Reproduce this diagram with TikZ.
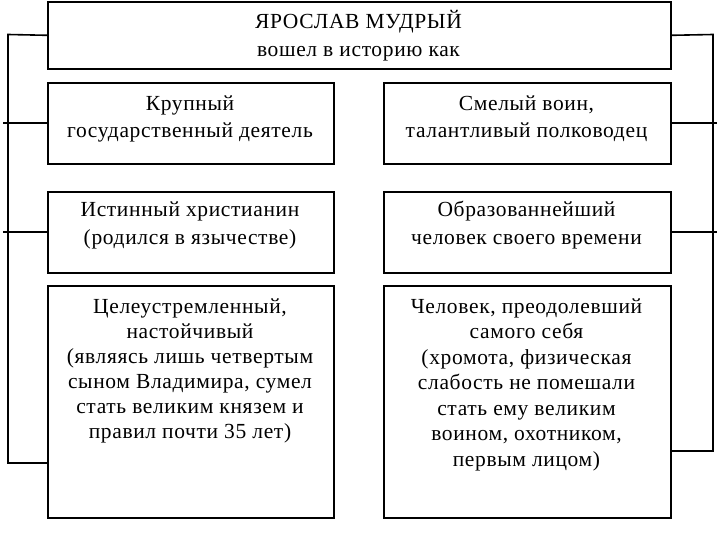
\documentclass[tikz,border=0pt]{standalone}
\usepackage{fontspec}
\setmainfont{Liberation Serif}[LetterSpace=3]
\begin{document}
\begin{tikzpicture}[x=1pt,y=-1pt]
\tikzset{
  box/.style={draw, line width=1.6pt, inner sep=0pt, anchor=north west},
  txt/.style={align=center, anchor=north, inner sep=0pt},
  conn/.style={line width=1.6pt}
}
\useasboundingbox[fill=white] (0,0) rectangle (720,540);
% boxes
\node[box, minimum width=623pt, minimum height=67pt] (top) at (47,1) {};
\node[box, minimum width=286pt, minimum height=81pt] (L1) at (47,82) {};
\node[box, minimum width=286pt, minimum height=81pt] (L2) at (47,191) {};
\node[box, minimum width=286pt, minimum height=232pt] (L3) at (47,285) {};
\node[box, minimum width=287pt, minimum height=81pt] (R1) at (383,82) {};
\node[box, minimum width=287pt, minimum height=81pt] (R2) at (383,191) {};
\node[box, minimum width=287pt, minimum height=232pt] (R3) at (383,285) {};
% texts
\node[txt, font=\fontsize{21.5}{28}\selectfont] (ttop) at (358.5,8) {\rule{0pt}{20pt}ЯРОСЛАВ МУДРЫЙ\\вошел в историю как};
\node[txt, font=\fontsize{21.5}{27}\selectfont] (tL1) at (190,90) {\rule{0pt}{20pt}Крупный\\государственный деятель};
\node[txt, font=\fontsize{21.5}{28}\selectfont] (tL2) at (190,196) {\rule{0pt}{20pt}Истинный христианин\\(родился в язычестве)};
\node[txt, font=\fontsize{21.5}{25}\selectfont] (tL3) at (190,293) {\rule{0pt}{20pt}Целеустремленный,\\настойчивый\\(являясь лишь четвертым\\сыном Владимира, сумел\\стать великим князем и\\правил почти 35 лет)};
\node[txt, font=\fontsize{21.5}{27}\selectfont] (tR1) at (526.5,90) {\rule{0pt}{20pt}Смелый воин,\\талантливый полководец};
\node[txt, font=\fontsize{21.5}{28}\selectfont] (tR2) at (526.5,196) {\rule{0pt}{20pt}Образованнейший\\человек своего времени};
\node[txt, font=\fontsize{21.5}{25.5}\selectfont] (tR3) at (526.5,293) {\rule{0pt}{20pt}Человек, преодолевший\\самого себя\\(хромота, физическая\\слабость не помешали\\стать ему великим\\воином, охотником,\\первым лицом)};
% left bracket
\coordinate (lc1) at (8,34.5);
\coordinate (lc2) at (8,463);
\coordinate (lo) at (3,0);
\draw[conn] (top.west) -- (lc1) -- (lc2) -- (lc2 -| L3.west);
\draw[conn] (L1.west -| lo) -- (L1.west);
\draw[conn] (L2.west -| lo) -- (L2.west);
% right bracket
\coordinate (rc1) at (713,34.5);
\coordinate (rc2) at (713,451);
\coordinate (ro) at (717,0);
\draw[conn] (top.east) -- (rc1) -- (rc2) -- (rc2 -| R3.east);
\draw[conn] (R1.east) -- (R1.east -| ro);
\draw[conn] (R2.east) -- (R2.east -| ro);
\end{tikzpicture}
\end{document}
